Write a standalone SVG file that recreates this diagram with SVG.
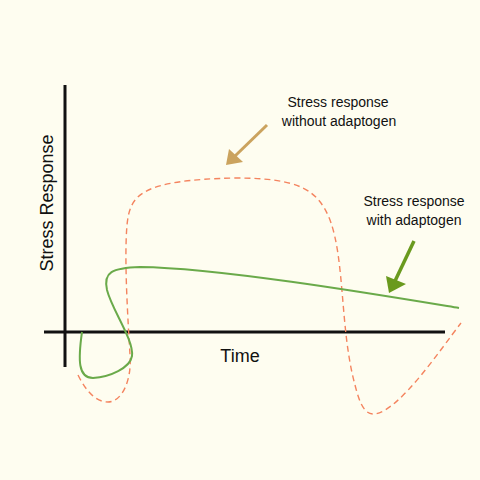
<svg xmlns="http://www.w3.org/2000/svg" width="480" height="480" viewBox="0 0 480 480">
<style>
.lbl{font-family:"Liberation Sans",Arial,sans-serif;fill:#111;}
.ax{stroke:#111;stroke-width:3;fill:none;}
</style>
<rect width="480" height="480" fill="#fefdf0"/>
<g id="axes">
<line class="ax" x1="65" y1="85" x2="65" y2="367"/>
<line class="ax" x1="44" y1="332" x2="445" y2="332"/>
</g>
<g id="curves">
<path d="M 78 375 C 88 395, 98 402, 108 402 C 122 402, 132 380, 130 355 C 128 320, 124 260, 127 225 C 130 195, 140 180, 235 178 C 300 178, 318 190, 330 220 C 345 260, 340 330, 355 385 C 360 405, 365 415, 375 414 C 400 410, 440 350, 461 323" fill="none" stroke="#f4845f" stroke-width="1.4" stroke-dasharray="6 4"/>
<path d="M 82 332 C 78 360, 78 378, 93 378 C 110 377, 130 368, 132 356 C 134 340, 112 310, 107 290 C 103 272, 112 268, 140 267 C 220 268, 380 295, 459 308" fill="none" stroke="#6aaa4a" stroke-width="2"/>
</g>
<g id="arrow-without">
<line x1="267" y1="125" x2="234" y2="157" stroke="#cba35e" stroke-width="3"/>
<polygon points="226,165 229,149 243,162" fill="#cba35e"/>
</g>
<g id="arrow-with">
<line x1="414" y1="241" x2="395" y2="281" stroke="#6a9a1e" stroke-width="3.5"/>
<polygon points="389,293 386,276 406,284" fill="#6a9a1e"/>
</g>
<g id="labels">
<text class="lbl" x="338" y="107" font-size="14" text-anchor="middle">Stress response</text>
<text class="lbl" x="339" y="126" font-size="14" text-anchor="middle">without adaptogen</text>
<text class="lbl" x="414" y="206" font-size="14" text-anchor="middle">Stress response</text>
<text class="lbl" x="414" y="225" font-size="14" text-anchor="middle">with adaptogen</text>
<text class="lbl" x="240" y="362" font-size="18" text-anchor="middle">Time</text>
<text class="lbl" x="0" y="0" font-size="18" text-anchor="middle" transform="translate(53 203) rotate(-90)">Stress Response</text>
</g>
</svg>
